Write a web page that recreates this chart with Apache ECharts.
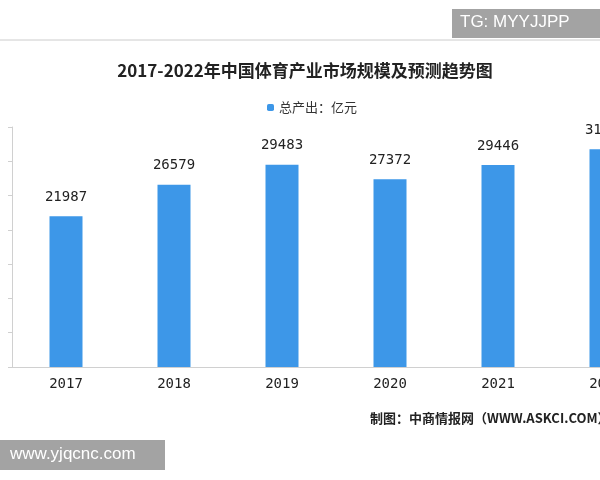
<!DOCTYPE html>
<html><head><meta charset="utf-8">
<script src="https://cdn.jsdelivr.net/npm/echarts@6/dist/echarts.min.js"></script>
<style>html,body{margin:0;padding:0;background:#fff;width:600px;height:480px;overflow:hidden}#c{width:662px;height:480px}</style>
</head><body><div id="c"></div>
<script>
const years = ['2017', '2018', '2019', '2020', '2021', '2022']
const output = [21987, 26579, 29483, 27372, 29446, 31770]

// the reference is cropped on the right, so the canvas is wider than the window
const chart = echarts.init(document.getElementById('c'))
chart.setOption({
  animation: false,
  textStyle: { fontFamily: '"Noto Sans CJK SC", sans-serif' },
  title: {
    text: '2017-2022年中国体育产业市场规模及预测趋势图',
    left: 300, top: 57, textAlign: 'center',
    textStyle: { fontSize: 17, fontWeight: 'bold', color: '#222', fontFamily: '"Noto Sans CJK SC"' }
  },
  legend: {
    data: ['总产出：亿元'], left: 262, top: 96,
    itemWidth: 7, itemHeight: 7, itemGap: 4,
    textStyle: { fontSize: 13, color: '#333' }
  },
  grid: { left: 12, top: 127, width: 648, height: 240, containLabel: false },
  xAxis: {
    type: 'category', data: years,
    axisLine: { lineStyle: { color: '#d0d0d0' } },
    axisTick: { lineStyle: { color: '#d0d0d0' } },
    axisLabel: { fontSize: 14, color: '#222', margin: 10, fontFamily: '"DejaVu Sans Mono", monospace' }
  },
  yAxis: {
    type: 'value', min: 0, max: 35000, interval: 5000,
    axisLine: { show: true, lineStyle: { color: '#d0d0d0' } },
    axisTick: { show: true, length: 4, lineStyle: { color: '#d0d0d0' } },
    axisLabel: { show: false },
    splitLine: { show: false }
  },
  series: [{
    name: '总产出：亿元', type: 'bar', data: output, barWidth: 33,
    itemStyle: { color: '#3d97e8' },
    label: { show: true, position: 'top', distance: 12, fontSize: 14, color: '#222', fontFamily: '"DejaVu Sans Mono", monospace' }
  }],
  graphic: [
    { type: 'line', shape: { x1: 0, y1: 40, x2: 600, y2: 40 }, style: { stroke: '#ccc', lineWidth: 1 } },
    { type: 'rect', shape: { x: 452, y: 9, width: 148, height: 29 }, style: { fill: '#a3a3a3' } },
    { type: 'text', x: 460, y: 14, style: { text: 'TG: MYYJJPP', fill: '#fff', fontSize: 17, fontFamily: 'Liberation Sans' } },
    { type: 'rect', shape: { x: 0, y: 440, width: 165, height: 30 }, style: { fill: '#a3a3a3' } },
    { type: 'text', x: 10, y: 446, style: { text: 'www.yjqcnc.com', fill: '#fff', fontSize: 17, fontFamily: 'Liberation Sans' } },
    { type: 'text', x: 370, y: 412, style: { text: '制图：中商情报网（WWW.ASKCI.COM）', fill: '#222', fontSize: 13, fontWeight: 'bold', fontFamily: '"Noto Sans CJK SC"' } }
  ]
})
</script></body></html>
